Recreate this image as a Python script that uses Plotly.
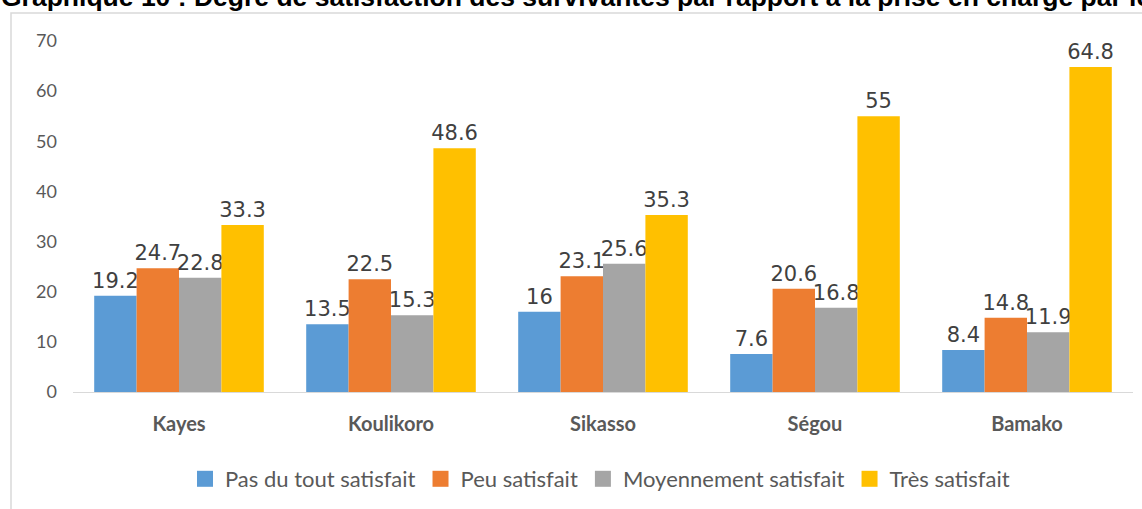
import plotly.graph_objects as go

regions = ["Kayes", "Koulikoro", "Sikasso", "Ségou", "Bamako"]
series_names = ["Pas du tout satisfait", "Peu satisfait", "Moyennement satisfait", "Très satisfait"]
pas_du_tout = [19.2, 13.5, 16, 7.6, 8.4]
peu = [24.7, 22.5, 23.1, 20.6, 14.8]
moyennement = [22.8, 15.3, 25.6, 16.8, 11.9]
tres = [33.3, 48.6, 35.3, 55, 64.8]
colors = ["#5B9BD5", "#ED7D31", "#A5A5A5", "#FFC000"]
y_ticks = [0, 10, 20, 30, 40, 50, 60, 70]
title_text = "Graphique 10 : Degré de satisfaction des survivantes par rapport à la prise en charge par les"

W, H = 1142, 509
L, R, T, B = 73, 9, 41, 117
pw, ph = W - L - R, H - T - B

def px_x(x):
    return (x - L) / pw

def px_y(y):
    return (H - B - y) / ph

fig = go.Figure()
for name, vals, col in zip(series_names, [pas_du_tout, peu, moyennement, tres], colors):
    fig.add_trace(go.Bar(
        x=regions, y=vals, name=name, marker=dict(color=col, line=dict(width=0)),
        text=[f"{v:g}" for v in vals], textposition="outside", constraintext="none",
        cliponaxis=False, showlegend=False,
        textfont=dict(family="DejaVu Sans", size=21, color="#404040"),
    ))
# legend entries (square swatches)
for name, col in zip(series_names, colors):
    fig.add_trace(go.Scatter(
        x=[None], y=[None], name=name, mode="markers",
        marker=dict(symbol="square", size=16, color=col), showlegend=True,
    ))

fig.update_layout(
    width=W, height=H,
    margin=dict(l=L, r=R, t=T, b=B, pad=0),
    paper_bgcolor="white", plot_bgcolor="white",
    barmode="group", bargap=0.2, bargroupgap=0,
    showlegend=True,
    legend=dict(orientation="h", x=px_x(600), xanchor="center", y=px_y(479), yanchor="middle",
                font=dict(family="Lato", size=22, color="#595959"), traceorder="normal",
                itemwidth=30),
    xaxis=dict(showgrid=False, showline=True, linecolor="#D9D9D9", linewidth=1, ticks="",
               tickfont=dict(family="Lato", size=20, color="#595959", weight="bold"),
               ticklabelstandoff=14, zeroline=False),
    yaxis=dict(range=[0, 70], tickvals=y_ticks, showgrid=False, showline=False, zeroline=False,
               ticks="", tickfont=dict(family="Lato", size=18, color="#595959"),
               ticklabelstandoff=15),
    shapes=[dict(type="rect", xref="paper", yref="paper",
                 x0=px_x(11), x1=px_x(1200), y0=px_y(600), y1=px_y(13),
                 line=dict(color="#D9D9D9", width=1.5), fillcolor="rgba(0,0,0,0)", layer="below")],
    annotations=[dict(text=title_text, xref="paper", yref="paper", x=px_x(-1), y=px_y(14),
                      xanchor="left", yanchor="bottom", showarrow=False,
                      font=dict(family="Liberation Sans", size=26.5, color="black", weight="bold"))],
)

fig.write_html("out.html", config={"displayModeBar": False},
               post_script="document.body.style.margin='0';")
